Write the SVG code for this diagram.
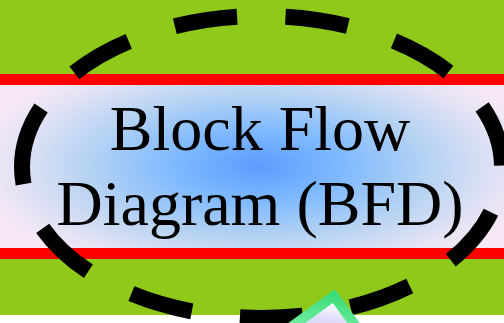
<svg xmlns="http://www.w3.org/2000/svg" width="504" height="323" viewBox="0 0 504 323">
  <defs>
    <radialGradient id="bandGlow" gradientUnits="userSpaceOnUse" cx="0" cy="0" r="1" gradientTransform="translate(258 166) scale(285 120)">
      <stop offset="0" stop-color="#5d9bff"/>
      <stop offset="0.3" stop-color="#7fbaff"/>
      <stop offset="0.6" stop-color="#b6d3f3"/>
      <stop offset="0.85" stop-color="#e2e2f4"/>
      <stop offset="1" stop-color="#f7e8f6"/>
    </radialGradient>
    <linearGradient id="bevelGreen" x1="0" y1="0" x2="1" y2="1">
      <stop offset="0" stop-color="#34d873"/>
      <stop offset="0.45" stop-color="#74f0a6"/>
      <stop offset="1" stop-color="#d0f8e0"/>
    </linearGradient>
    <linearGradient id="faceLav" x1="0" y1="0" x2="1" y2="1">
      <stop offset="0" stop-color="#ffffff"/>
      <stop offset="0.2" stop-color="#dedcfa"/>
      <stop offset="1" stop-color="#d2d0f6"/>
    </linearGradient>
    <style>
      .title { font-family: "Liberation Serif", "Times New Roman", serif; font-size: 64px; fill: #000; text-anchor: middle; }
      .rule { fill: #ff0000; }
      .ring { fill: none; stroke: #000; stroke-width: 16; stroke-dasharray: 63 48.5; }
    </style>
  </defs>

  <!-- backdrop -->
  <rect x="0" y="0" width="504" height="323" fill="#8fc91a"/>
  <rect x="0" y="315" width="504" height="8" fill="#ffffff"/>

  <!-- title band between red rules -->
  <g id="band">
    <rect x="0" y="85" width="504" height="163" fill="url(#bandGlow)"/>
    <rect class="rule" x="0" y="74" width="504" height="11"/>
    <rect class="rule" x="0" y="248" width="504" height="11"/>
    <text class="title" x="260" y="150">Block Flow</text>
    <text class="title" x="260" y="225">Diagram (BFD)</text>
  </g>

  <!-- dashed ring, traced clockwise from its leftmost point -->
  <g id="ring">
    <path class="ring" d="M22 167 A240 151 0 0 1 502 167 A240 151 0 0 1 22 167 Z"/>
  </g>

  <!-- beveled block peeking in at the bottom -->
  <g id="block" transform="translate(335 289) rotate(54)">
    <rect x="0" y="0" width="70" height="70" rx="3" fill="url(#bevelGreen)"/>
    <rect x="10" y="10" width="60" height="60" fill="url(#faceLav)"/>
  </g>
</svg>
